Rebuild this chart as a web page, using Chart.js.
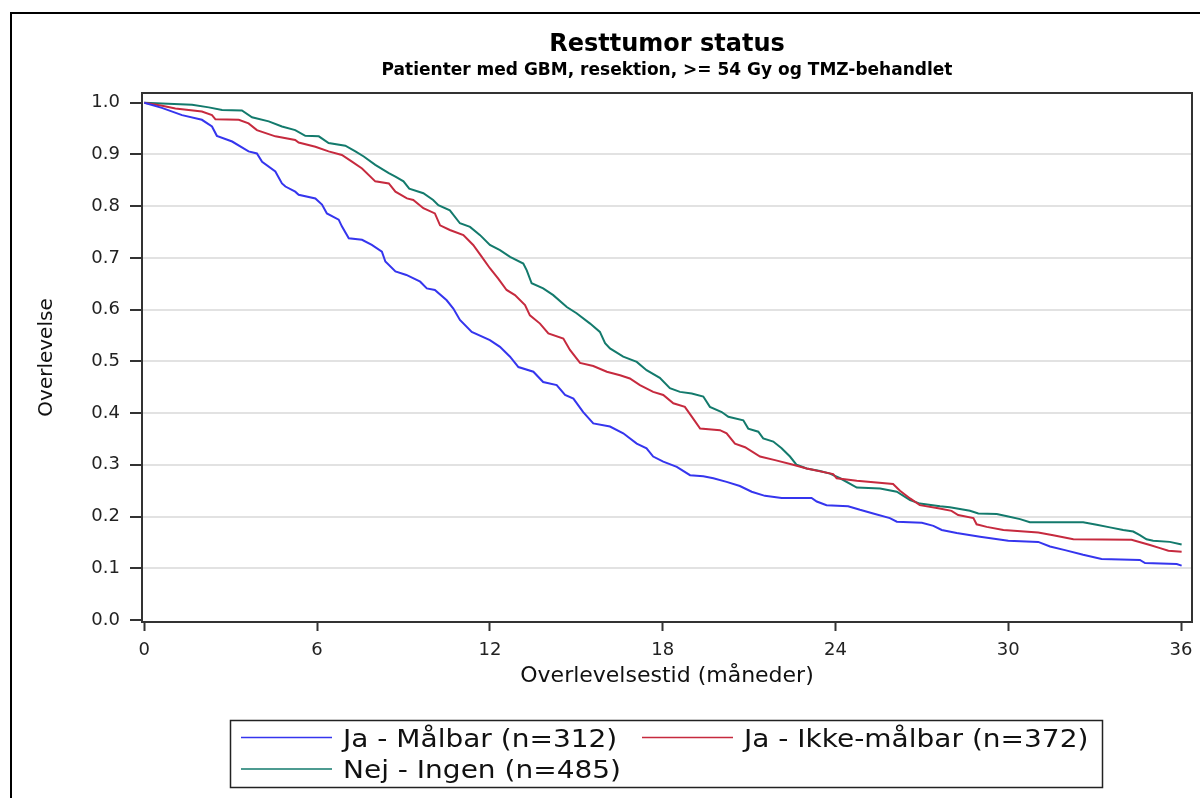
<!DOCTYPE html>
<html>
<head>
<meta charset="utf-8">
<script src="https://cdn.jsdelivr.net/npm/chart.js@4.4.1/dist/chart.umd.min.js"></script>
<style>
  body { margin: 0; background: #fff; }
  #wrap { width: 1200px; height: 798px; position: relative; }
</style>
</head>
<body>
<div id="wrap"><canvas id="myChart"></canvas></div>
<script>
// Resttumor status - Kaplan-Meier kurver
const titel = 'Resttumor status';
const undertitel = 'Patienter med GBM, resektion, >= 54 Gy og TMZ-behandlet';
const xTitel = 'Overlevelsestid (måneder)';
const yTitel = 'Overlevelse';

const maanedTicks = [0, 6, 12, 18, 24, 30, 36];
const overlevTicks = [0, 0.1, 0.2, 0.3, 0.4, 0.5, 0.6, 0.7, 0.8, 0.9, 1.0];

const grupper = ['Ja - Målbar (n=312)', 'Ja - Ikke-målbar (n=372)', 'Nej - Ingen (n=485)'];
const farver = ['#3535ee', '#c62a3e', '#137a6c'];

// Ja - Målbar
const tidMaalbar = [0, 0.61, 1.31, 2.0, 2.35, 2.52, 3.05, 3.62, 3.91, 4.09, 4.55, 4.78, 4.9, 5.24, 5.36, 5.94,
  6.17, 6.34, 6.75, 6.86, 7.1, 7.56, 7.9, 8.25, 8.37, 8.72, 9.1, 9.58, 9.81, 10.09, 10.5, 10.73, 10.96, 11.37,
  12.0, 12.35, 12.7, 12.99, 13.51, 13.85, 14.32, 14.61, 14.9, 15.24, 15.59, 16.17, 16.63, 17.1, 17.44, 17.67,
  18.02, 18.49, 18.95, 19.41, 19.76, 20.22, 20.68, 21.09, 21.55, 22.13, 23.17, 23.35, 23.69, 24.44, 24.85, 25.31,
  25.89, 26.13, 27.0, 27.4, 27.69, 28.21, 29.02, 30.0, 31.04, 31.45, 31.97, 32.6, 33.24, 34.57, 34.75, 35.85, 36.02];
const overlevMaalbar = [1.0, 0.99, 0.976, 0.967, 0.954, 0.936, 0.925, 0.906, 0.902, 0.886, 0.867, 0.844, 0.838, 0.828, 0.822, 0.815,
  0.803, 0.786, 0.774, 0.761, 0.738, 0.735, 0.725, 0.712, 0.693, 0.674, 0.667, 0.654, 0.641, 0.638, 0.618, 0.602, 0.58, 0.557,
  0.541, 0.528, 0.509, 0.489, 0.48, 0.46, 0.454, 0.435, 0.428, 0.402, 0.38, 0.374, 0.361, 0.341, 0.332, 0.316,
  0.306, 0.296, 0.28, 0.278, 0.274, 0.267, 0.259, 0.248, 0.24, 0.236, 0.236, 0.229, 0.222, 0.22, 0.213, 0.206,
  0.197, 0.19, 0.188, 0.182, 0.174, 0.168, 0.161, 0.153, 0.151, 0.142, 0.135, 0.126, 0.118, 0.116, 0.11, 0.108, 0.105];

// Ja - Ikke-målbar
const tidIkkeMaalbar = [0, 0.62, 1.08, 2.0, 2.35, 2.47, 3.28, 3.62, 3.91, 4.55, 5.24, 5.36, 5.94, 6.4, 6.86, 7.21,
  7.56, 8.02, 8.49, 8.72, 9.12, 9.34, 9.69, 10.09, 10.27, 10.61, 11.08, 11.42, 11.72, 12.0, 12.29, 12.58, 12.87,
  13.22, 13.39, 13.74, 14.03, 14.55, 14.78, 15.13, 15.59, 16.06, 16.52, 16.86, 17.21, 17.67, 18.02, 18.37, 18.77,
  19.01, 19.3, 19.99, 20.22, 20.51, 20.86, 21.38, 21.9, 22.53, 23.0, 23.92, 24.04, 24.74, 26.0, 26.24, 26.59,
  26.93, 27.57, 28.03, 28.26, 28.79, 28.9, 29.25, 29.83, 31.04, 31.56, 32.26, 34.28, 34.92, 35.27, 35.56, 36.02];
const overlevIkkeMaalbar = [1.0, 0.994, 0.989, 0.983, 0.976, 0.968, 0.967, 0.96, 0.947, 0.935, 0.928, 0.923, 0.915, 0.906, 0.899, 0.886,
  0.873, 0.848, 0.844, 0.828, 0.815, 0.812, 0.796, 0.786, 0.763, 0.754, 0.744, 0.725, 0.702, 0.68, 0.66, 0.638, 0.628,
  0.609, 0.589, 0.573, 0.554, 0.544, 0.522, 0.497, 0.491, 0.48, 0.473, 0.467, 0.454, 0.441, 0.435, 0.419, 0.412,
  0.393, 0.37, 0.367, 0.361, 0.341, 0.334, 0.316, 0.309, 0.3, 0.293, 0.282, 0.274, 0.269, 0.263, 0.25, 0.235,
  0.222, 0.216, 0.211, 0.203, 0.197, 0.185, 0.18, 0.174, 0.169, 0.164, 0.156, 0.155, 0.145, 0.139, 0.134, 0.132];

// Nej - Ingen
const tidIngen = [0, 1.66, 2.24, 2.7, 3.39, 3.74, 4.32, 4.78, 5.24, 5.59, 6.06, 6.4, 6.98, 7.33, 7.62, 8.02, 8.49,
  8.72, 9.0, 9.2, 9.69, 10.03, 10.21, 10.61, 10.96, 11.31, 11.66, 12.0, 12.35, 12.7, 13.16, 13.28, 13.45, 13.85,
  14.2, 14.67, 15.01, 15.48, 15.82, 16.0, 16.17, 16.63, 17.1, 17.44, 17.9, 18.25, 18.6, 19.01, 19.41, 19.64, 20.05,
  20.28, 20.8, 20.97, 21.32, 21.49, 21.84, 22.13, 22.42, 22.65, 23.0, 23.46, 23.81, 24.16, 24.74, 25.55, 26.13,
  26.59, 26.93, 27.63, 27.97, 28.67, 28.96, 29.6, 30.0, 30.41, 30.75, 32.6, 33.07, 33.53, 33.99, 34.34, 34.57, 34.8,
  35.03, 35.61, 36.02];
const overlevIngen = [1.0, 0.996, 0.991, 0.986, 0.985, 0.972, 0.964, 0.954, 0.947, 0.936, 0.935, 0.922, 0.917, 0.906, 0.896, 0.88, 0.864,
  0.857, 0.848, 0.834, 0.825, 0.812, 0.802, 0.792, 0.767, 0.76, 0.744, 0.725, 0.715, 0.702, 0.689, 0.676, 0.651, 0.641,
  0.628, 0.605, 0.593, 0.573, 0.557, 0.535, 0.525, 0.509, 0.499, 0.483, 0.468, 0.448, 0.441, 0.438, 0.432, 0.412, 0.402,
  0.393, 0.386, 0.37, 0.364, 0.351, 0.345, 0.332, 0.316, 0.3, 0.293, 0.288, 0.283, 0.274, 0.256, 0.254, 0.248,
  0.232, 0.225, 0.22, 0.218, 0.211, 0.206, 0.205, 0.2, 0.195, 0.189, 0.189, 0.184, 0.179, 0.174, 0.171, 0.164, 0.156,
  0.153, 0.151, 0.146];

function punkter(tid, overlev) {
    return tid.map((t, i) => ({ x: t, y: overlev[i] }));
}

function strakTekst(c, tekst, x, y, sx) {
    c.save();
    c.translate(x, y);
    c.scale(sx, 1);
    c.fillText(tekst, 0, 0);
    c.restore();
}

const rammePlugin = {
    id: 'ramme',
    beforeDraw(chart) {
        const c = chart.ctx;
        c.save();
        c.fillStyle = '#fff';
        c.fillRect(0, 0, chart.width, chart.height);
        c.strokeStyle = '#000';
        c.lineWidth = 2;
        c.beginPath();
        c.moveTo(11, chart.height);
        c.lineTo(11, 13);
        c.lineTo(chart.width, 13);
        c.stroke();
        c.restore();
    },
    afterDraw(chart) {
        const c = chart.ctx;
        const a = chart.chartArea;
        c.save();
        // top og højre kant af plotboksen
        c.strokeStyle = '#333';
        c.lineWidth = 2;
        c.beginPath();
        c.moveTo(a.left, a.top);
        c.lineTo(a.right, a.top);
        c.lineTo(a.right, a.bottom);
        c.stroke();

        // titler
        const midt = (a.left + a.right) / 2;
        c.fillStyle = '#000';
        c.textAlign = 'center';
        c.textBaseline = 'middle';
        c.font = 'bold 24px "DejaVu Sans"';
        c.fillText(titel, midt, 45);
        c.font = 'bold 17px "DejaVu Sans"';
        c.fillText(undertitel, midt, 71);

        // legend
        c.strokeStyle = '#222';
        c.lineWidth = 1.5;
        c.strokeRect(230.5, 720.5, 872, 67);
        const pos = [[241, 746.5], [642, 746.5], [241, 778]];
        c.textAlign = 'left';
        c.textBaseline = 'alphabetic';
        c.font = '25px "DejaVu Sans"';
        grupper.forEach((navn, i) => {
            const [x, y] = pos[i];
            c.strokeStyle = farver[i];
            c.lineWidth = 1.5;
            c.beginPath();
            c.moveTo(x, y - 9);
            c.lineTo(x + 91, y - 9);
            c.stroke();
            c.fillStyle = '#111';
            strakTekst(c, navn, x + 102, y, 1.12);
        });
        c.restore();
    }
};

const tidsserier = [
    punkter(tidMaalbar, overlevMaalbar),
    punkter(tidIkkeMaalbar, overlevIkkeMaalbar),
    punkter(tidIngen, overlevIngen)
];

const ctx = document.getElementById('myChart').getContext('2d');
const grafica = new Chart(ctx, {
    type: 'line',
    data: {
        datasets: tidsserier.map((d, i) => ({
            label: grupper[i],
            data: d,
            borderColor: farver[i],
            borderWidth: 2,
            pointRadius: 0,
            fill: false,
            tension: 0
        }))
    },
    options: {
        responsive: true,
        maintainAspectRatio: false,
        animation: false,
        layout: { padding: { left: 0, top: 93, right: 8, bottom: 0 } },
        plugins: {
            legend: { display: false },
            tooltip: { enabled: false }
        },
        scales: {
            x: {
                type: 'linear',
                min: -0.08,
                max: 36.38,
                afterBuildTicks: s => { s.ticks = maanedTicks.map(v => ({ value: v })); },
                afterFit: s => { s.height = 176; s.paddingLeft = 0; s.paddingRight = 0; },
                ticks: {
                    color: '#222',
                    padding: 9,
                    maxRotation: 0,
                    font: { family: 'DejaVu Sans', size: 18 },
                    callback: v => String(v)
                },
                grid: {
                    drawOnChartArea: false,
                    drawTicks: true,
                    tickLength: 9,
                    tickColor: '#333',
                    tickWidth: 2
                },
                border: { display: true, color: '#333', width: 2 },
                title: {
                    display: true,
                    text: xTitel,
                    color: '#111',
                    font: { family: 'DejaVu Sans', size: 22 },
                    padding: { top: 0, bottom: 109 }
                }
            },
            y: {
                type: 'linear',
                min: -0.0039,
                max: 1.0188,
                afterBuildTicks: s => { s.ticks = overlevTicks.map(v => ({ value: v })); },
                afterFit: s => { s.width = 142; s.paddingTop = 0; s.paddingBottom = 0; },
                ticks: {
                    color: '#222',
                    padding: 10,
                    font: { family: 'DejaVu Sans', size: 18 },
                    callback: v => v.toFixed(1)
                },
                grid: {
                    color: c => (c.tick && c.tick.value > 0.05 && c.tick.value < 0.95) ? '#e2e2e2' : 'rgba(0,0,0,0)',
                    lineWidth: 2,
                    drawTicks: true,
                    tickLength: 12,
                    tickColor: '#333',
                    tickWidth: 2
                },
                border: { display: true, color: '#333', width: 2 },
                title: {
                    display: true,
                    text: yTitel,
                    color: '#111',
                    font: { family: 'DejaVu Sans', size: 20 },
                    padding: { top: 35, bottom: 0 }
                }
            }
        }
    },
    plugins: [rammePlugin]
});
</script>
</body>
</html>
